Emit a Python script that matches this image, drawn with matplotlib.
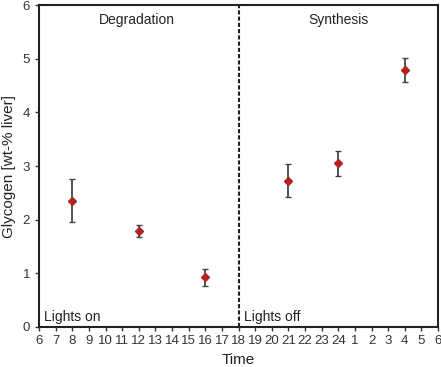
import matplotlib
matplotlib.use("Agg")
import matplotlib.pyplot as plt

plt.rcParams['font.family'] = ['Liberation Sans', 'DejaVu Sans']

times = [8, 12, 16, 21, 24, 28]
glycogen = [2.35, 1.79, 0.93, 2.73, 3.05, 4.79]
errors = [0.40, 0.12, 0.16, 0.31, 0.24, 0.23]
tick_pos = list(range(6, 31))
tick_labels = [str(h if h <= 24 else h - 24) for h in tick_pos]

fig = plt.figure(figsize=(4.41, 3.67), dpi=100)
ax = fig.add_axes([0.0884, 0.109, 0.905, 0.877])

ax.errorbar(times, glycogen, yerr=errors, fmt='D', color='#b22222', ms=4,
            ecolor='#444444', elinewidth=1.3, capsize=2.5, capthick=1, zorder=3)

ax.axvline(18, color='#222222', ls=(0, (2, 1)), lw=1.5)

ax.set_xlim(6, 30)
ax.set_ylim(0, 6)
ax.set_xticks(tick_pos)
ax.set_xticklabels(tick_labels)
ax.set_yticks(range(0, 7))
ax.tick_params(axis='both', direction='out', length=3, width=1, labelsize=9.5,
               labelcolor='#333333', color='#333333')
ax.tick_params(axis='x', pad=3)
for s in ax.spines.values():
    s.set_linewidth(1.5)
    s.set_color('#222222')

ax.text(0.245, 0.975, 'Degradation', transform=ax.transAxes, ha='center', va='top',
        fontsize=10, color='#222222')
ax.text(0.75, 0.975, 'Synthesis', transform=ax.transAxes, ha='center', va='top',
        fontsize=10, color='#222222')
ax.text(6.3, 0.05, 'Lights on', ha='left', va='bottom', fontsize=10, color='#222222')
ax.text(18.3, 0.05, 'Lights off', ha='left', va='bottom', fontsize=10, color='#222222')

ax.set_xlabel('Time', fontsize=11, color='#222222')
ax.set_ylabel('Glycogen [wt-% liver]', fontsize=11, color='#222222')
ax.xaxis.set_label_coords(0.5, -0.08)
ax.yaxis.set_label_coords(-0.057, 0.5)

fig.savefig('out.png', dpi=100)
